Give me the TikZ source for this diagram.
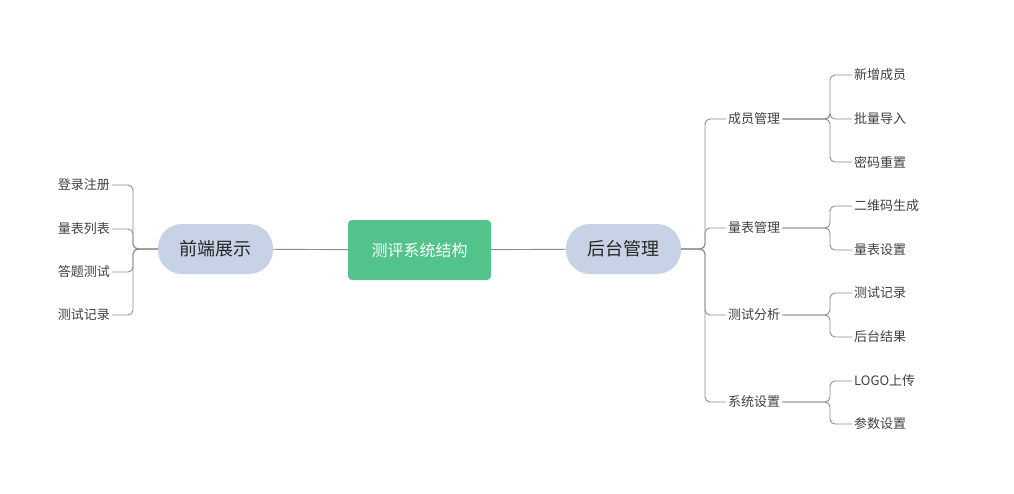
\documentclass[tikz,border=0pt]{standalone}
\usepackage{fontspec}
\newfontfamily\cjk{Noto Sans CJK SC}
\begin{document}
\begin{tikzpicture}[x=1pt,y=-1pt,
  ln/.style={draw=gray!90,line width=0.9pt,rounded corners=5pt},
  leaf/.style={font=\cjk\fontsize{13}{15}\selectfont,text=black!75,inner sep=2pt},
  pill/.style={fill=blue!20!gray!30,rounded corners=24pt,minimum width=115pt,minimum height=50pt,font=\cjk\fontsize{18}{20}\selectfont,text=black!85},
]
\useasboundingbox (0,0) rectangle (1014,493);
\definecolor{mg}{HTML}{52C48B}
\definecolor{pl}{HTML}{C8D2E6}
\node[fill=mg,rounded corners=4pt,minimum width=143pt,minimum height=60pt,font=\cjk\fontsize{16}{18}\selectfont,text=white] (c) at (419.5,250) {测评系统结构};
\node[pill,fill=pl] (L) at (215.5,249) {前端展示};
\node[pill,fill=pl] (R) at (623.5,249) {后台管理};
\draw[ln] (c) -- (L);
\draw[ln] (c) -- (R);
% left
\foreach \n/\t/\y in {l1/登录注册/185,l2/量表列表/229,l3/答题测试/272,l4/测试记录/315}{
  \node[leaf,anchor=east] (\n) at (112,\y) {\t};
  \draw[ln] (L.west) -- (133,249) -- (133,\y) -- (\n.east);
}
% right
\foreach \n/\t/\y in {r1/成员管理/119,r2/量表管理/228,r3/测试分析/315,r4/系统设置/402}{
  \node[leaf,anchor=west] (\n) at (726,\y) {\t};
  \draw[ln] (R.east) -- (705,249) -- (705,\y) -- (\n.west);
}
\foreach \p/\n/\t/\y/\m in {r1/s1/新增成员/75/119,r1/s2/批量导入/119/119,r1/s3/密码重置/162/119,
  r2/s4/二维码生成/206/228,r2/s5/量表设置/250/228,
  r3/s6/测试记录/293/315,r3/s7/后台结果/337/315,
  r4/s8/LOGO上传/381/402,r4/s9/参数设置/424/402}{
  \node[leaf,anchor=west] (\n) at (852,\y) {\t};
  \draw[ln] (\p.east) -- (830,\m) -- (830,\y) -- (\n.west);
}
\end{tikzpicture}
\end{document}
